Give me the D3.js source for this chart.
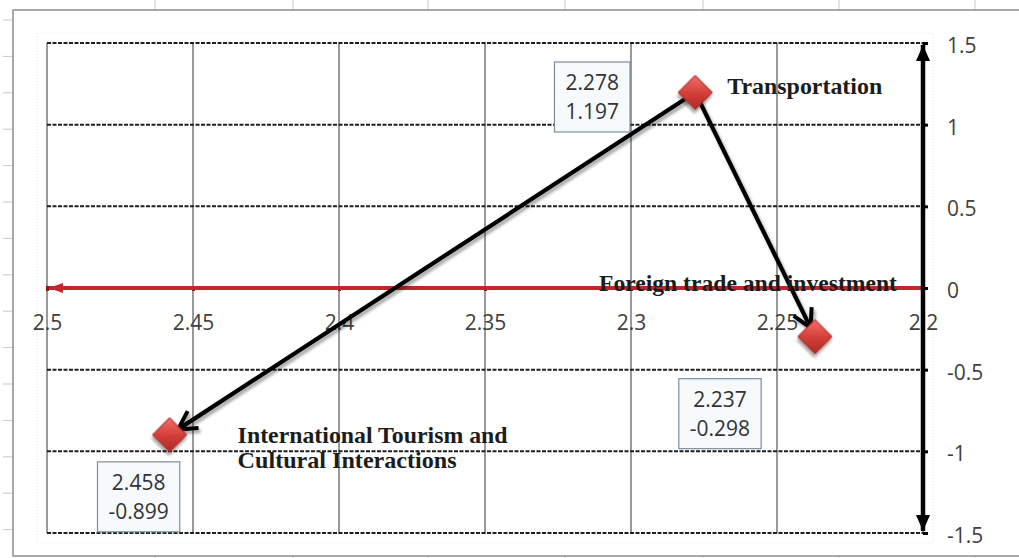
<!DOCTYPE html>
<html lang="en">
<head>
  <meta charset="UTF-8">
  <title>Transportation / Trade / Tourism</title>
  <script src="https://d3js.org/d3.v7.min.js"></script>
  <style>
    body { margin: 0; background: #fff; }
    .tick text { font-family: "Open Sans", sans-serif; font-size: 21px; fill: #404040; }
    .cat { font-family: "Liberation Serif", "Times New Roman", serif; font-weight: bold; font-size: 23px; fill: #1c1c1c; }
    .lbl { font-family: "Open Sans", sans-serif; font-size: 21px; fill: #333; }
  </style>
</head>
<body>
<div id="chart"></div>
<script>
// data
const categories = ["Transportation", "Foreign trade and investment", "International Tourism and Cultural Interactions"];
const xValues = [2.278, 2.237, 2.458];
const yValues = [1.197, -0.298, -0.899];
const xTicks = [2.5, 2.45, 2.4, 2.35, 2.3, 2.25, 2.2];
const yTicks = [1.5, 1, 0.5, 0, -0.5, -1, -1.5];
const arrowLinks = [[0, 1], [0, 2]];   // from -> to (indices)

// layout of the text around each point
const catLines = [["Transportation"], ["Foreign trade and investment"], ["International Tourism and", "Cultural Interactions"]];
const catOffsets = [[32, 2], [-216, -46], [68, 8]];
const catLengths = [[155], [298], [270, 219]];
const boxOffsets = [[-103, 4.5], [-95, 77], [-31, 62]];

const W = 1019, H = 558;
const svg = d3.select("#chart").append("svg").attr("width", W).attr("height", H);

const x = d3.scaleLinear().domain([2.5, 2.2]).range([47, 923]);
const y = d3.scaleLinear().domain([1.5, -1.5]).range([43, 533]);

// excel style numbers: plain hyphen for minus
const fmt = d => String(d);
const fmt3 = d => d.toFixed(3);

const defs = svg.append("defs");
const grad = defs.append("linearGradient").attr("id", "dia").attr("x1", 0).attr("y1", 0).attr("x2", 1).attr("y2", 1);
grad.append("stop").attr("offset", "0%").attr("stop-color", "#f0706a");
grad.append("stop").attr("offset", "55%").attr("stop-color", "#d23c36");
grad.append("stop").attr("offset", "100%").attr("stop-color", "#b02826");

const shadow = defs.append("filter").attr("id", "shadow").attr("x", "-20%").attr("y", "-20%").attr("width", "140%").attr("height", "140%");
shadow.append("feDropShadow").attr("dx", 2).attr("dy", 3).attr("stdDeviation", 1.8)
  .attr("flood-color", "#000").attr("flood-opacity", 0.35);

const glow = defs.append("filter").attr("id", "glow").attr("x", "-5%").attr("y", "-200%").attr("width", "110%").attr("height", "500%");
glow.append("feGaussianBlur").attr("stdDeviation", 2.5);

// open V arrowhead for the black links
defs.append("marker").attr("id", "vhead")
  .attr("markerUnits", "userSpaceOnUse").attr("viewBox", "-22 -14 26 28")
  .attr("markerWidth", 26).attr("markerHeight", 28).attr("refX", 0).attr("refY", 0)
  .attr("orient", "auto")
  .append("path").attr("d", "M-18,-10 L0,0 L-18,10")
  .attr("fill", "none").attr("stroke", "#000").attr("stroke-width", 4).attr("stroke-linejoin", "miter");

// closed triangles for the axes
function tri(id, color, w, l) {
  defs.append("marker").attr("id", id)
    .attr("markerUnits", "userSpaceOnUse").attr("viewBox", `${-l} ${-w} ${l + 2} ${2 * w}`)
    .attr("markerWidth", l + 2).attr("markerHeight", 2 * w).attr("refX", 0).attr("refY", 0)
    .attr("orient", "auto-start-reverse")
    .append("path").attr("d", `M${-l},${-w} L0,0 L${-l},${w} Z`).attr("fill", color);
}
tri("blackTri", "#000", 7, 16);
tri("redTri", "#c0262c", 5, 14);

// spreadsheet cells peeking around the chart object
const bg = svg.append("g").attr("stroke", "#c9c9c9").attr("stroke-width", 1);
[155, 293, 428, 565, 703, 839, 975].forEach(c => {
  bg.append("line").attr("x1", c).attr("x2", c).attr("y1", 0).attr("y2", 10);
  bg.append("line").attr("x1", c).attr("x2", c).attr("y1", 556).attr("y2", H);
});
d3.range(20, 550, 36.4).forEach(r => {
  bg.append("line").attr("x1", 3).attr("x2", 13).attr("y1", r).attr("y2", r);
});

// chart object border
svg.append("rect").attr("x", 13).attr("y", 10).attr("width", 1030).attr("height", 546)
  .attr("fill", "#fff").attr("stroke", "#8c8c8c").attr("stroke-width", 1.5);

// faint plot area outline
svg.append("rect").attr("x", 37).attr("y", 33).attr("width", 896).attr("height", 510)
  .attr("fill", "none").attr("stroke", "#e8e8e8").attr("stroke-dasharray", "1,2");

// vertical gridlines
svg.append("g").selectAll("line").data(xTicks).join("line")
  .attr("x1", d => x(d)).attr("x2", d => x(d))
  .attr("y1", y(1.5)).attr("y2", y(-1.5))
  .attr("stroke", "#808080").attr("stroke-width", 1.6);

// horizontal dashed gridlines
svg.append("g").selectAll("line").data(yTicks).join("line")
  .attr("x1", x(2.5)).attr("x2", x(2.2))
  .attr("y1", d => y(d)).attr("y2", d => y(d))
  .attr("stroke", "#1e1e1e").attr("stroke-width", 2).attr("stroke-dasharray", "4,1.5");

// x axis (red, along y = 0)
const y0 = y(0);
svg.append("line").attr("x1", x(2.5)).attr("x2", x(2.2)).attr("y1", y0).attr("y2", y0)
  .attr("stroke", "#f6b9b0").attr("stroke-width", 9).attr("opacity", 0.7).attr("filter", "url(#glow)");
const xAxis = svg.append("g").attr("transform", `translate(0,${y0})`)
  .call(d3.axisBottom(x).tickValues(xTicks).tickFormat(fmt).tickSize(3).tickPadding(24));
xAxis.select(".domain").remove();
xAxis.selectAll(".tick line").attr("stroke", "#8a1a1a").attr("stroke-width", 3).attr("y1", -2);
svg.append("line").attr("x1", x(2.2)).attr("x2", x(2.5) + 2).attr("y1", y0).attr("y2", y0)
  .attr("stroke", "#c0262c").attr("stroke-width", 4).attr("marker-end", "url(#redTri)");

// y axis (black, on the right)
const yAxis = svg.append("g").attr("transform", `translate(${x(2.2)},0)`)
  .call(d3.axisRight(y).tickValues(yTicks).tickFormat(fmt).tickSize(5).tickPadding(19));
yAxis.select(".domain").remove();
yAxis.selectAll(".tick line").attr("stroke", "#000").attr("stroke-width", 3);
yAxis.selectAll(".tick text").attr("dy", "0.45em");
svg.append("line").attr("x1", x(2.2)).attr("x2", x(2.2)).attr("y1", y(1.5) + 2).attr("y2", y(-1.5) - 2)
  .attr("stroke", "#000").attr("stroke-width", 4.5)
  .attr("marker-start", "url(#blackTri)").attr("marker-end", "url(#blackTri)");

// arrows between points
const pts = xValues.map((v, i) => [x(v), y(yValues[i])]);
svg.append("g").attr("filter", "url(#shadow)").selectAll("line").data(arrowLinks).join("line")
  .each(function ([a, b]) {
    const [x1, y1] = pts[a], [x2, y2] = pts[b];
    const len = Math.hypot(x2 - x1, y2 - y1), k = (len - 10) / len;
    d3.select(this)
      .attr("x1", x1 + (x2 - x1) * 8 / len).attr("y1", y1 + (y2 - y1) * 8 / len)
      .attr("x2", x1 + (x2 - x1) * k).attr("y2", y1 + (y2 - y1) * k);
  })
  .attr("stroke", "#000").attr("stroke-width", 4.2).attr("marker-end", "url(#vhead)");

// diamond markers
svg.append("g").selectAll("path").data(pts).join("path")
  .attr("d", d3.symbol(d3.symbolSquare, 580))
  .attr("transform", d => `translate(${d[0]},${d[1]}) rotate(45)`)
  .attr("fill", "url(#dia)").attr("stroke", "#a8302c").attr("stroke-width", 1)
  .attr("filter", "url(#shadow)");

// value labels in boxes
pts.forEach((p, i) => {
  const cx = p[0] + boxOffsets[i][0], cy = p[1] + boxOffsets[i][1];
  const g = svg.append("g");
  const box = g.append("rect").attr("fill", "#f6fafd").attr("stroke", "#7b8d9d").attr("stroke-width", 1.2);
  const t = g.append("text").attr("class", "lbl").attr("text-anchor", "middle");
  t.append("tspan").attr("x", cx).attr("y", cy - 7).text(fmt3(xValues[i]));
  t.append("tspan").attr("x", cx).attr("y", cy + 22).text(fmt3(yValues[i]));
  const w = t.node().getBBox().width + 22;
  box.attr("x", cx - w / 2).attr("y", cy - 35).attr("width", w).attr("height", 70);
});

// category labels
pts.forEach((p, i) => {
  catLines[i].forEach((line, j) => {
    svg.append("text").attr("class", "cat")
      .attr("x", p[0] + catOffsets[i][0]).attr("y", p[1] + catOffsets[i][1] + j * 25)
      .attr("textLength", catLengths[i][j]).attr("lengthAdjust", "spacingAndGlyphs")
      .text(line);
  });
});
</script>
</body>
</html>
